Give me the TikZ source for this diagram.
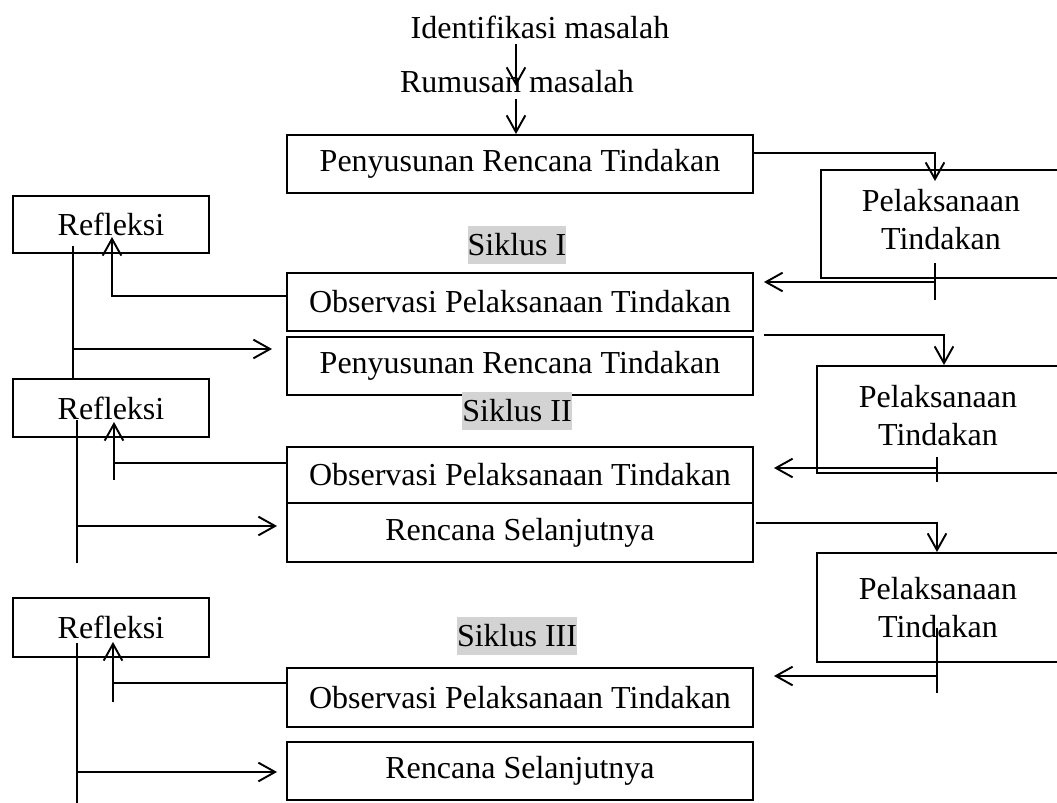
\documentclass[tikz,border=0pt]{standalone}
\usepackage{fontspec}
\setmainfont{Liberation Serif}
\usetikzlibrary{arrows.meta}
\definecolor{hl}{RGB}{211,211,211}
\begin{document}
\begin{tikzpicture}[x=0.75pt,y=-0.75pt, line width=1.45pt,
  every node/.style={font=\fontsize{24}{28.5}\selectfont},
  box/.style={draw, inner sep=0pt, minimum width=349.5pt},
  rbox/.style={draw, inner sep=0pt, minimum width=147pt},
  pbox/.style={draw, inner sep=0pt},
  arr/.style={-{Straight Barb[length=12.5pt,width=14pt]}},
  sik/.style={fill=hl, inner xsep=0pt, inner ysep=0pt, minimum height=28.5pt}]
\useasboundingbox (0,0) rectangle (1057,803);
\clip (0,0) rectangle (1057,803);

% top texts
\node (id) at (540,27) {Identifikasi masalah};
\node (rm) at (517,82) {Rumusan masalah};

% central boxes
\node[box, minimum height=43.5pt] (p1) at (520,164) {Penyusunan Rencana Tindakan};
\node[box, minimum height=43.5pt] (o1) at (520,302) {Observasi Pelaksanaan Tindakan};
\node[box, minimum height=43.5pt] (p2) at (520,366) {Penyusunan Rencana Tindakan};
\node[box, minimum height=42pt] (o2) at (520,475) {Observasi Pelaksanaan Tindakan};
\node[box, minimum height=44.25pt] (r1) at (520,532.5) {Rencana Selanjutnya};
\node[box, minimum height=44.25pt] (o3) at (520,697.5) {Observasi Pelaksanaan Tindakan};
\node[box, minimum height=43.5pt] (r2) at (520,771) {Rencana Selanjutnya};

% Siklus labels
\node[sik] (s1) at (517,245) {Siklus I};
\node[sik] (s2) at (517,411) {Siklus II};
\node[sik] (s3) at (517,636) {Siklus III};

% Refleksi boxes
\node[rbox, minimum height=42.75pt] (f1) at (111,224.5) {Refleksi};
\node[rbox, minimum height=43.5pt] (f2) at (111,408) {Refleksi};
\node[rbox, minimum height=44.25pt] (f3) at (111,627.5) {Refleksi};

% Pelaksanaan boxes (right side runs off the page)
\node[pbox, minimum width=194.25pt, minimum height=81pt] (pl1) at (950.5,224) {};
\node[align=center, inner sep=0pt] (t1) at (941,220) {Pelaksanaan\\Tindakan};
\node[pbox, minimum width=197.25pt, minimum height=80.25pt] (pl2) at (948.5,419.5) {};
\node[align=center, inner sep=0pt] (t2) at (938,416) {Pelaksanaan\\Tindakan};
\node[pbox, minimum width=197.25pt, minimum height=81.75pt] (pl3) at (948.5,607.5) {};
\node[align=center, inner sep=0pt] (t3) at (938,608) {Pelaksanaan\\Tindakan};

% coordinates
\coordinate (c1) at (516,86);
\coordinate (k1) at (935,153);
\coordinate (m1) at (935,282);
\coordinate (n1) at (112,296);
\coordinate (n1t) at (112,237);
\coordinate (v1) at (73,349);
\coordinate (k2) at (944,335);
\coordinate (m2) at (937,468);
\coordinate (n2) at (114,463);
\coordinate (n2t) at (114,422);
\coordinate (n2b) at (114,480);
\coordinate (v2) at (77,526);
\coordinate (v2t) at (77,420);
\coordinate (k3) at (937,523);
\coordinate (m3) at (937,676);
\coordinate (n3) at (113,683);
\coordinate (n3t) at (113,642);
\coordinate (n3b) at (113,702);
\coordinate (v3) at (77,772);
\coordinate (v3t) at (77,643);
\coordinate (v3b) at (77,803);

% top flow
\draw[arr] (id.south -| c1) -- (c1);
\draw[arr] (rm.south -| c1) -- (p1.north -| c1);

% cycle I
\draw[arr] (p1.east |- k1) -- (k1) -- ([yshift=-9pt]pl1.north -| k1);
\draw ([yshift=14.25pt]m1) -- ([yshift=-13.5pt]m1);
\draw[arr] (m1) -- ([xshift=7.5pt]o1.east |- m1);
\draw[arr] (o1.west |- n1) -- (n1) -- (n1t);
\draw ([yshift=6pt]f1.south -| v1) -- (f2.north -| v1);
\draw[arr] (v1) -- ([xshift=-10.5pt]p2.west |- v1);

% cycle II
\draw[arr] ([xshift=7.5pt]p2.east |- k2) -- (k2) -- (pl2.north -| k2);
\draw ([yshift=8.25pt]m2) -- ([yshift=-10.5pt]m2);
\draw[arr] (m2) -- ([xshift=15pt]o2.east |- m2);
\draw[arr] (o2.west |- n2) -- (n2) -- (n2t);
\draw (n2) -- (n2b);
\draw (v2t) -- (r1.south -| v2);
\draw[arr] (v2) -- ([xshift=-6.75pt]r1.west |- v2);

% cycle III
\draw[arr] ([xshift=1.5pt]r1.east |- k3) -- (k3) -- (pl3.north -| k3);
\draw ([yshift=36pt]m3) -- ([yshift=-12.75pt]m3);
\draw[arr] (m3) -- ([xshift=15pt]o3.east |- m3);
\draw[arr] (o3.west |- n3) -- (n3) -- (n3t);
\draw (n3) -- (n3b);
\draw (v3t) -- (v3b);
\draw[arr] (v3) -- ([xshift=-6.75pt]r2.west |- v3);
\end{tikzpicture}
\end{document}
